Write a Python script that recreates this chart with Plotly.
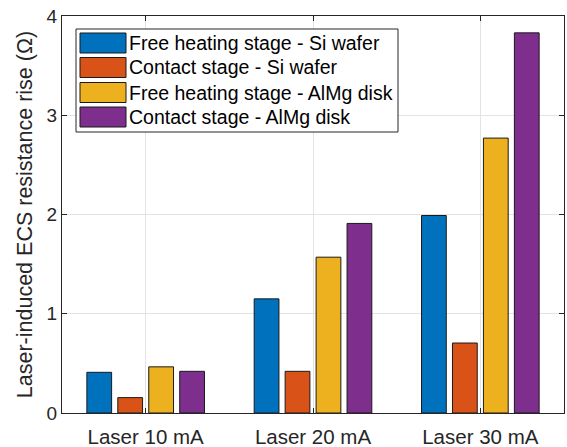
import plotly.graph_objects as go

categories = ["Laser 10 mA", "Laser 20 mA", "Laser 30 mA"]
series_names = [
    "Free heating stage - Si wafer",
    "Contact stage - Si wafer",
    "Free heating stage - AlMg disk",
    "Contact stage - AlMg disk",
]
free_si = [0.41, 1.15, 1.99]
contact_si = [0.155, 0.42, 0.705]
free_almg = [0.465, 1.57, 2.77]
contact_almg = [0.42, 1.91, 3.83]
series_values = [free_si, contact_si, free_almg, contact_almg]
colors = ["#0072BD", "#D95319", "#EDB120", "#7E2F8E"]
y_ticks = [0, 1, 2, 3, 4]

W, H = 567, 447
ML, MR, MT, MB = 62, 3, 16, 34
PW, PH = W - ML - MR, H - MT - MB
FONT = "Liberation Sans, Arial, sans-serif"
TXT = "#262626"

def px(x):
    return (x - ML) / PW

def py(y):
    return (H - MB - y) / PH

fig = go.Figure()
xs = [1, 2, 3]
for name, vals, c in zip(series_names, series_values, colors):
    fig.add_trace(go.Bar(x=xs, y=vals, name=name, marker=dict(color=c, line=dict(color="#1a1a1a", width=1)),
                         showlegend=False))

axis_common = dict(showline=True, linecolor=TXT, linewidth=1, mirror="ticks", ticks="inside",
                   ticklen=5, tickcolor=TXT, showgrid=True, gridcolor="#e3e3e3", gridwidth=1,
                   zeroline=False, automargin=False)

fig.update_layout(
    width=W, height=H,
    margin=dict(l=ML, r=MR, t=MT, b=MB),
    paper_bgcolor="white", plot_bgcolor="white",
    barmode="group", bargap=0.26, bargroupgap=0.2,
    xaxis=dict(range=[0.5, 3.5], tickvals=xs, ticktext=categories,
               tickfont=dict(family=FONT, size=20.5, color=TXT), ticklabelstandoff=5, **axis_common),
    yaxis=dict(range=[0, 4], tickvals=y_ticks,
               tickfont=dict(family=FONT, size=19, color=TXT), **axis_common),
    font=dict(family=FONT, color=TXT),
)
fig.update_yaxes(title=dict(text="Laser-induced ECS resistance rise (Ω)",
                            font=dict(family=FONT, size=21.5, color=TXT), standoff=8))

# manual legend (MATLAB-style large swatches)
fig.add_shape(type="rect", xref="paper", yref="paper", x0=px(76), x1=px(398), y0=py(132), y1=py(29),
              line=dict(color=TXT, width=1), fillcolor="white", layer="above")
row_centers = [43, 67.5, 92.5, 117]
for name, c, yc in zip(series_names, colors, row_centers):
    fig.add_shape(type="rect", xref="paper", yref="paper", x0=px(80), x1=px(126), y0=py(yc + 10), y1=py(yc - 10),
                  line=dict(color="#1a1a1a", width=1), fillcolor=c, layer="above")
    fig.add_annotation(xref="paper", yref="paper", x=px(127), y=py(yc), text=name, showarrow=False,
                       xanchor="left", yanchor="middle", font=dict(family=FONT, size=19.5, color="#000000"))

fig.write_html("out.html")
